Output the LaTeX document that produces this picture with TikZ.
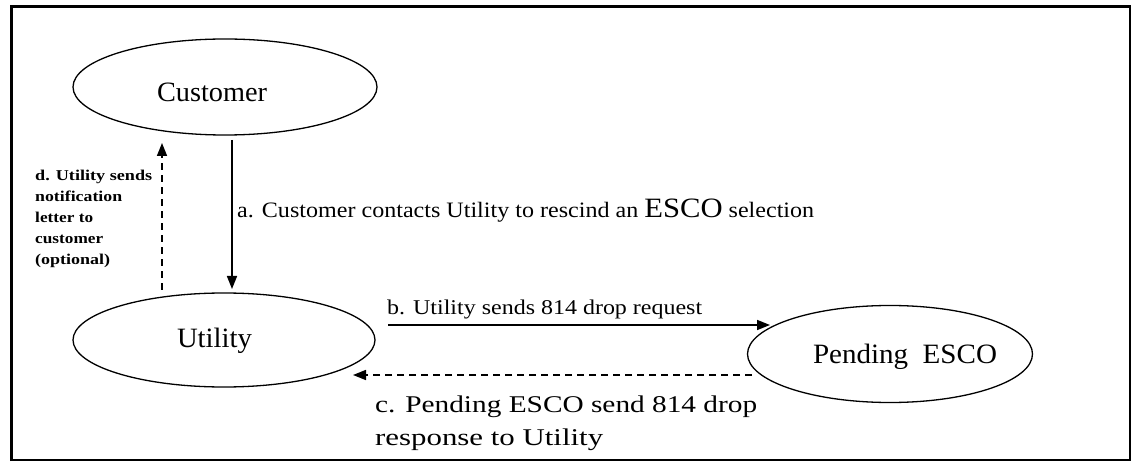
\documentclass[tikz,border=0pt]{standalone}
\usepackage{fontspec}
\setmainfont{Liberation Serif}
\usepackage{graphicx}
\usetikzlibrary{arrows.meta,shapes.geometric,calc}
\newcommand{\fitw}[2]{\resizebox{#1}{\height}{#2}}
\begin{document}
\begin{tikzpicture}[x=1pt,y=-1pt,
  actor/.style={draw,ellipse,line width=1.3pt,inner sep=0pt,text depth=0pt,font=\fontsize{28}{32}\selectfont},
  flow/.style={line width=1.6pt,-{Triangle[length=13pt,width=10pt]}},
  back/.style={flow,dash pattern=on 7pt off 5pt},
  lbl/.style={inner sep=0pt,anchor=base west}]
\useasboundingbox (0,0) rectangle (1132,462);
% frame
\draw[line width=2pt] (11.5,6.5) rectangle (1130,460);
\draw[line width=3.5pt] (11.5,461) -- (11.5,6.5) -- (1131,6.5);
% actors
\node[actor,minimum width=304pt,minimum height=96pt,text height=30pt] (cust) at (225,87) {\makebox[0pt]{\fitw{110pt}{Customer}\rule{26pt}{0pt}}};
\node[actor,minimum width=302pt,minimum height=94pt,text height=14pt] (util) at (224,340) {\makebox[0pt]{\fitw{75pt}{Utility}\rule{19pt}{0pt}}};
\node[actor,minimum width=285pt,minimum height=97pt,text height=18pt] (pend) at (890,354) {\makebox[0pt]{\rule{30pt}{0pt}\fitw{184pt}{Pending\ \ ESCO}}};
% connectors
\draw[flow] ([shift={(7,53)}]cust.center) -- ([shift={(8,-51)}]util.center);
\draw[back] ([shift={(-62,-50)}]util.center) -- ([shift={(-63,56)}]cust.center);
\draw[flow] ([shift={(164,-15)}]util.center) -- ([shift={(-120,-29)}]pend.center);
\draw[back] ([shift={(-138,21)}]pend.center) -- ([shift={(129,35)}]util.center);
% labels
\node[lbl] (la) at (237,218) {\fontsize{22}{26}\selectfont\fitw{577pt}{a. Customer contacts Utility to rescind an {\fontsize{28}{30}\selectfont ESCO} selection}};
\node[lbl] (lb) at (387,315) {\fontsize{21}{24}\selectfont\fitw{315pt}{b. Utility sends 814 drop request}};
\node[inner sep=0pt,anchor=north west,align=left,font=\fontsize{24}{33}\selectfont] (lc) at (375,396) {\fitw{382pt}{c. Pending ESCO send 814 drop}\\\fitw{228pt}{response to Utility}};
\node[inner sep=0pt,anchor=north west,align=left,font=\fontsize{15}{21}\selectfont\bfseries] (ld) at (35,170) {\fitw{117pt}{d. Utility sends}\\\fitw{87pt}{notification}\\\fitw{58pt}{letter to}\\\fitw{68pt}{customer}\\\fitw{75pt}{(optional)}};
\end{tikzpicture}
\end{document}
